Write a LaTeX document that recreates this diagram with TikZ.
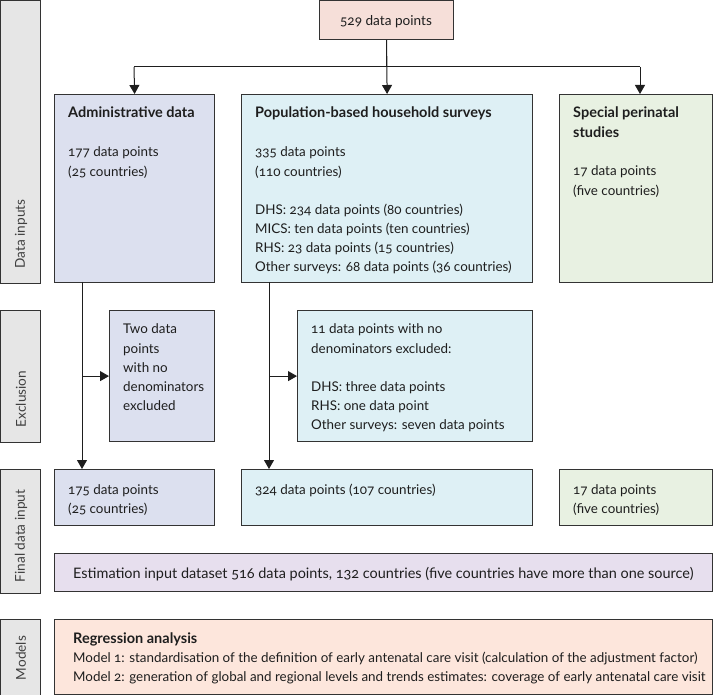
\documentclass[tikz,border=0pt]{standalone}
\usepackage{fontspec}
\setmainfont[Numbers=OldStyle]{Lato}
\usetikzlibrary{arrows.meta}
\definecolor{linec}{HTML}{333333}
\definecolor{txtc}{HTML}{1E1E1E}
\definecolor{admc}{HTML}{DCE0EF}
\definecolor{popc}{HTML}{DEF0F5}
\definecolor{spcc}{HTML}{E8F1E2}
\definecolor{topc}{HTML}{F6DFD9}
\definecolor{estc}{HTML}{E7DFEE}
\definecolor{modc}{HTML}{FDE6DC}
\definecolor{sidec}{HTML}{E6E6E6}
\newcommand\mylines[1]{\begin{tabular}[t]{@{}l@{}}#1\end{tabular}}
\newcommand\hd[1]{{\fontsize{14.5}{16}\selectfont\bfseries #1}}
\renewcommand{\arraystretch}{1.19}
\begin{document}
\begin{tikzpicture}[x=1pt,y=-1pt,
  box/.style={draw=linec, line width=1.2pt, inner sep=0pt, anchor=north west},
  sidebox/.style={box, fill=sidec},
  txt/.style={text=txtc, inner sep=0pt, anchor=base west, font=\fontsize{13.4}{16}\selectfont},
  sidetxt/.style={text=txtc!85, inner sep=0pt, rotate=90, font=\fontsize{13.6}{16}\selectfont},
  conn/.style={draw=txtc, line width=1pt},
  arr/.style={conn, -{Triangle[length=9pt,width=10pt]}}]
\useasboundingbox (0,0) rectangle (713,695);
% side labels
\node[sidebox, minimum width=40pt, minimum height=283pt] (sInputs) at (0,0) {};
\node[sidebox, minimum width=40pt, minimum height=132pt] (sExcl) at (0,310) {};
\node[sidebox, minimum width=40pt, minimum height=124pt] (sFinal) at (0,469) {};
\node[sidebox, minimum width=40pt, minimum height=76pt] (sModels) at (0,619) {};
\node[sidetxt] (tInputs) at (21,234) {Data inputs};
\node[sidetxt] (tExcl) at (21,399) {Exclusion};
\node[sidetxt] (tFinal) at (21,536) {Final data input};
\node[sidetxt] (tModels) at (21,658) {Models};
% top
\node[box, fill=topc, minimum width=134pt, minimum height=39pt] (top) at (319,0) {};
\node[txt, anchor=base, font=\fontsize{13.6}{16}\selectfont] (topT) at (386,26) {529 data points};
% row 1
\node[box, fill=admc, minimum width=160pt, minimum height=188pt] (adm) at (54,94) {};
\node[box, fill=popc, minimum width=291pt, minimum height=188pt] (pop) at (241,94) {};
\node[box, fill=spcc, minimum width=153pt, minimum height=188pt] (spc) at (559,94) {};
\node[txt] (admT) at (68,118) {\hd{Administrative data}};
\node[txt] (admB) at (68,157) {\mylines{177 data points\\(25 countries)}};
\node[txt] (popT) at (255,118) {\hd{Population-based household surveys}};
\node[txt] (popB) at (255,157) {\mylines{335 data points\\(110 countries)\\ \\DHS: 234 data points (80 countries)\\MICS: ten data points (ten countries)\\RHS: 23 data points (15 countries)\\Other surveys: 68 data points (36 countries)}};
\node[txt] (spcT) at (573,118) {\mylines{\hd{Special perinatal}\\\hd{studies}}};
\node[txt] (spcB) at (573,176) {\mylines{17 data points\\(five countries)}};
% exclusion
\node[box, fill=admc, minimum width=105pt, minimum height=131pt] (admX) at (109,310) {};
\node[box, fill=popc, minimum width=235pt, minimum height=131pt] (popX) at (297,310) {};
\node[txt] (admXT) at (123,334) {\mylines{Two data\\points\\with no\\denominators\\excluded}};
\node[txt] (popXT) at (311,334) {\mylines{11 data points with no\\denominators excluded:\\ \\DHS: three data points\\RHS: one data point\\Other surveys: seven data points}};
% final
\node[box, fill=admc, minimum width=160pt, minimum height=56pt] (admF) at (54,469) {};
\node[box, fill=popc, minimum width=291pt, minimum height=56pt] (popF) at (241,469) {};
\node[box, fill=spcc, minimum width=153pt, minimum height=56pt] (spcF) at (559,469) {};
\node[txt] (admFT) at (68,494) {\mylines{175 data points\\(25 countries)}};
\node[txt] (popFT) at (255,494) {324 data points (107 countries)};
\node[txt] (spcFT) at (573,494) {\mylines{17 data points\\(five countries)}};
% estimation
\node[box, fill=estc, minimum width=658pt, minimum height=38pt] (est) at (54,553) {};
\node[txt, font=\fontsize{14.45}{17}\selectfont] (estT) at (73,578) {Estimation input dataset 516 data points, 132 countries (five countries have more than one source)};
% models
\node[box, fill=modc, minimum width=658pt, minimum height=75pt] (mod) at (54,619) {};
\node[txt] (modT) at (73,643) {\mylines{\hd{Regression analysis}\\Model 1: standardisation of the definition of early antenatal care visit (calculation of the adjustment factor)\\Model 2: generation of global and regional levels and trends estimates: coverage of early antenatal care visit}};
% connectors
\coordinate (hL) at (134,67);
\coordinate (hR) at (640,67);
\coordinate (hM) at (top.south |- hL);
\draw[conn] (top.south) -- (hM);
\draw[conn] (hL) -- (hR);
\draw[arr] (hL) -- (adm.north);
\draw[arr] (top.south) -- (pop.north);
\draw[arr] (hR) -- (hR |- spc.north);
\coordinate (vA) at (82,282);
\coordinate (vP) at (269,282);
\draw[arr] (vA) -- (vA |- admF.north);
\draw[arr] (vA |- admX.west) -- (admX.west);
\draw[arr] (vP) -- (vP |- popF.north);
\draw[arr] (vP |- popX.west) -- (popX.west);
\end{tikzpicture}
\end{document}
